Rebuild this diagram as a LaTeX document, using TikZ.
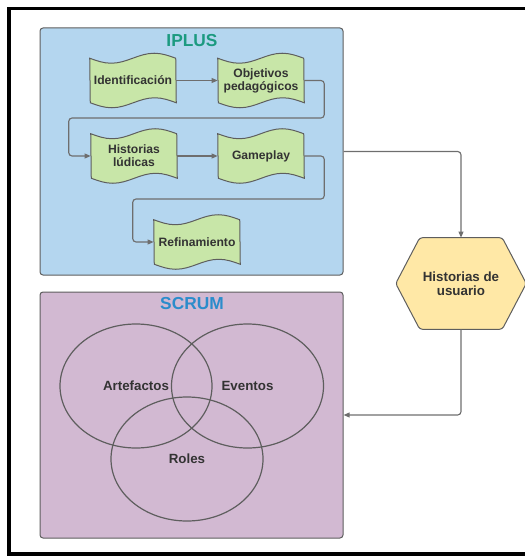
\documentclass[tikz,border=0pt]{standalone}
\usepackage{fontspec}
\setmainfont{Liberation Sans}
\usetikzlibrary{arrows.meta,backgrounds,shapes.geometric,calc}

\definecolor{ipfill}{HTML}{B4D6EF}
\definecolor{scfill}{HTML}{D2B9D2}
\definecolor{tapefill}{HTML}{C8E6A8}
\definecolor{hexfill}{HTML}{FFE8A6}
\definecolor{edgec}{HTML}{5E5E5E}
\definecolor{connc}{HTML}{6E6E6E}
\definecolor{labelc}{HTML}{333333}
\definecolor{ipluscol}{HTML}{1C9A80}
\definecolor{scrumcol}{HTML}{2B8CCB}

% wavy "punched tape" outline around a node
\newcommand\tapeoutline[1]{%
  \path[tapeline] (#1.north west) sin ++(21.5,5) cos ++(21.5,-5) sin ++(21.5,-5) cos ++(21.5,5)
    -- (#1.south east) sin ++(-21.5,-5) cos ++(-21.5,5) sin ++(-21.5,5) cos ++(-21.5,-5) -- cycle;}

\begin{document}
\begin{tikzpicture}[x=0.75pt,y=-0.75pt,
  panel/.style={draw=edgec, line width=0.75pt, rounded corners=2.25pt, inner sep=0pt,
    minimum width=227.25pt},
  title/.style={font=\bfseries\fontsize{13}{15}\selectfont},
  tapestep/.style={inner sep=0pt, minimum width=64.5pt, minimum height=33pt, align=center,
    text=labelc, font=\bfseries\fontsize{9.1}{9.8}\selectfont},
  tapeline/.style={fill=tapefill, draw=edgec, line width=0.75pt},
  hexstep/.style={inner sep=0pt, minimum width=97.5pt, minimum height=68.25pt, align=center,
    text=labelc, font=\bfseries\fontsize{10}{10.5}\selectfont},
  hexline/.style={fill=hexfill, draw=edgec, line width=0.75pt, rounded corners=2pt},
  venn/.style={ellipse, draw=edgec, line width=0.9pt, inner sep=0pt, minimum width=114pt,
    minimum height=93pt, text=labelc, font=\bfseries\fontsize{10}{12}\selectfont},
  conn/.style={draw=connc, line width=0.85pt, rounded corners=2.5pt,
    -{Triangle[length=4.5pt,width=3.6pt]}}]

\begin{scope}[on background layer]
  % outer frame: top, left and bottom sides; it runs on past the right page edge
  \draw[line width=2.4pt] (540,8.5) -- (9,8.5) -- (9,554) -- (540,554);
  % the two method panels
  \node[panel, fill=ipfill, minimum height=185.25pt] (iplus) at (191.5,151.5) {};
  \node[panel, fill=scfill, minimum height=184.5pt] (scrum) at (191.5,415) {};
\end{scope}

% panel titles
\node[title, text=ipluscol] (iptitle) at (192,41) {IPLUS};
\node[title, text=scrumcol] (sctitle) at (192,304) {SCRUM};

% IPLUS steps
\node[tapestep] (ident) at (133,80.5) {Identificación};
\node[tapestep] (obj) at (261,80.5) {Objetivos\\pedagógicos};
\node[tapestep] (hl) at (134,156) {Historias\\lúdicas};
\node[tapestep] (gp) at (261,156) {Gameplay};
\node[tapestep] (ref) at (197,242) {Refinamiento};

% user stories
\node[hexstep] (hu) at (461,283.5) {Historias de\\usuario};

% SCRUM Venn diagram
\node[venn] (art) at (136,386) {Artefactos};
\node[venn] (evt) at (247.5,386) {Eventos};
\node[venn] (rol) at (187,459) {Roles};

\begin{scope}[on background layer]
  \tapeoutline{ident}
  \tapeoutline{obj}
  \tapeoutline{hl}
  \tapeoutline{gp}
  \tapeoutline{ref}
  \path[hexline] (hu.west) -- ($(hu.north west)+(24,0)$) -- ($(hu.north east)+(-24,0)$)
    -- (hu.east) -- ($(hu.south east)+(-24,0)$) -- ($(hu.south west)+(24,0)$) -- cycle;
\end{scope}

% connectors
\draw[conn] (ident) -- (obj);
\draw[conn] (obj.east) -- ++(20,0) -- ++(0,37.5) -| ($(hl.west)+(-22,0)$) -- (hl.west);
\draw[conn] (hl) -- (gp);
\draw[conn] (gp.east) -- ++(20,0) -- ++(0,43) -| ($(ref.west)+(-21,0)$) -- (ref.west);
\draw[conn] (iplus.east) -| (hu.north);
\draw[conn] (hu.south) |- (scrum.east);

% page size
\pgfresetboundingbox
\useasboundingbox (0,0) rectangle (524,556);
\end{tikzpicture}
\end{document}
